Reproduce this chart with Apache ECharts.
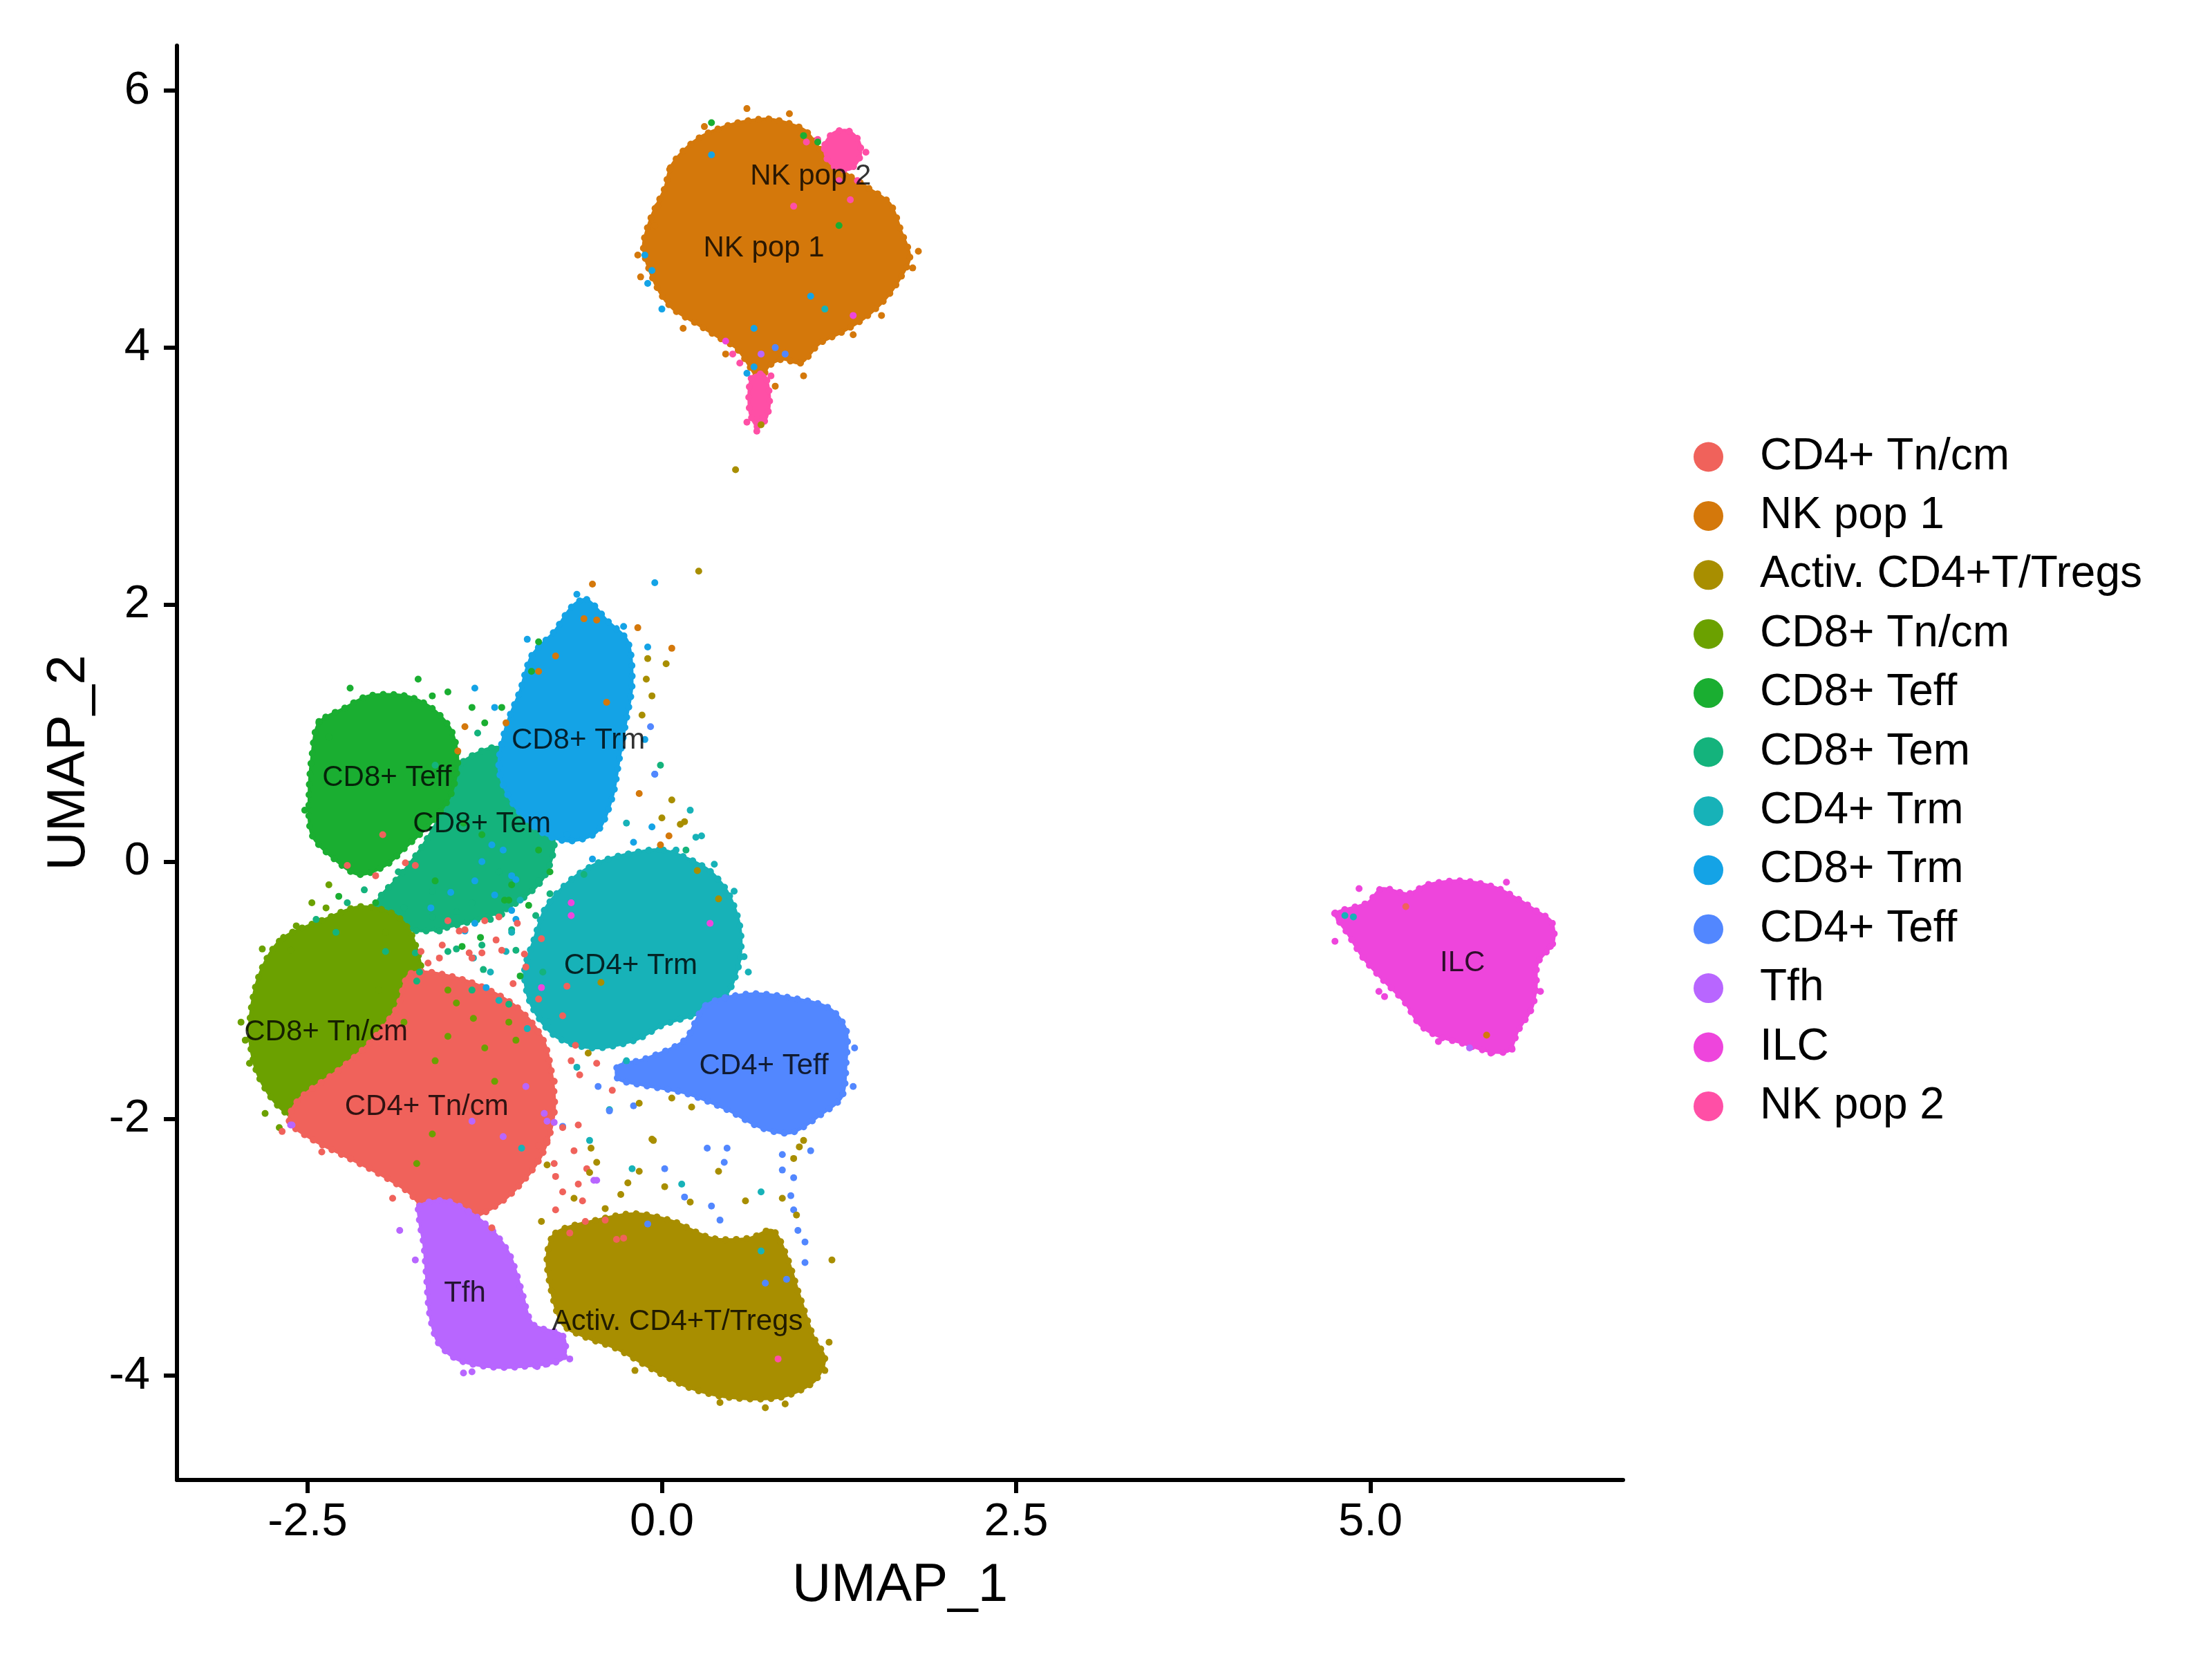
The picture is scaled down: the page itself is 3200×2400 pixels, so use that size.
<!DOCTYPE html>
<html>
<head>
<meta charset="utf-8">
<script src="https://cdn.jsdelivr.net/npm/echarts@6/dist/echarts.min.js"></script>
<style>
html, body { margin: 0; padding: 0; background: #fff; }
#umap { width: 3200px; height: 2400px; }
</style>
</head>
<body>
<div id="umap"></div>
<script>
// cluster names, legend order
var clusters = ['CD4+ Tn/cm', 'NK pop 1', 'Activ. CD4+T/Tregs', 'CD8+ Tn/cm', 'CD8+ Teff', 'CD8+ Tem',
	'CD4+ Trm', 'CD8+ Trm', 'CD4+ Teff', 'Tfh', 'ILC', 'NK pop 2'];
var clusterColors = ['#F0625B', '#D4780B', '#A88E00', '#6BA100', '#1AAE31', '#14B37C',
	'#17B2B8', '#14A3E6', '#5287FF', '#B866FF', '#EE45DC', '#FF4FA6'];

var xTicks = [-2.5, 0, 2.5, 5];
var yTicks = [-4, -2, 0, 2, 4, 6];

// dense cell areas of each cluster (UMAP_1, UMAP_2)
var hullCD4Tncm = [[[-1.77, -0.87], [-1.40, -0.92], [-1.05, -1.11], [-0.85, -1.36], [-0.78, -1.63], [-0.76, -1.96], [-0.85, -2.29],
	[-1.05, -2.57], [-1.25, -2.73], [-1.45, -2.80], [-1.65, -2.73], [-1.79, -2.57], [-2.01, -2.42], [-2.24, -2.29],
	[-2.47, -2.16], [-2.63, -2.02], [-2.56, -1.85], [-2.29, -1.63], [-2.07, -1.42], [-1.87, -1.14]]];
var hullNK1 = [[[0.06, 5.40], [0.15, 5.53], [0.29, 5.65], [0.50, 5.74], [0.72, 5.78], [0.85, 5.76], [1.01, 5.69], [1.12, 5.54],
	[1.27, 5.38], [1.46, 5.24], [1.61, 5.12], [1.69, 4.90], [1.75, 4.70], [1.67, 4.52], [1.57, 4.37], [1.43, 4.23],
	[1.27, 4.12], [1.11, 4.03], [0.98, 3.88], [0.85, 3.91], [0.75, 3.85], [0.69, 3.72], [0.65, 3.80], [0.53, 3.99],
	[0.40, 4.08], [0.24, 4.19], [0.08, 4.30], [-0.02, 4.44], [-0.11, 4.67], [-0.13, 4.81], [-0.07, 5.03], [0.02, 5.24]]];
var hullActiv = [[[-0.75, -2.89], [-0.46, -2.79], [-0.19, -2.74], [0.08, -2.80], [0.35, -2.93], [0.62, -2.93], [0.78, -2.87],
	[0.88, -3.07], [0.96, -3.34], [1.07, -3.70], [1.15, -3.87], [1.07, -4.05], [0.83, -4.17], [0.48, -4.17], [0.21, -4.10],
	[-0.05, -3.96], [-0.32, -3.79], [-0.54, -3.70], [-0.70, -3.60], [-0.78, -3.34], [-0.81, -3.07]]];
var hullCD8Tncm = [[[-2.67, -0.59], [-2.38, -0.45], [-2.13, -0.35], [-1.89, -0.41], [-1.77, -0.56], [-1.69, -0.87], [-1.65, -1.31],
	[-1.79, -1.74], [-2.14, -1.96], [-2.49, -2.05], [-2.70, -1.91], [-2.85, -1.66], [-2.91, -1.36], [-2.88, -1.03], [-2.80, -0.78]]];
var hullCD8Teff = [[[-2.42, 1.08], [-2.47, 0.82], [-2.49, 0.52], [-2.47, 0.21], [-2.30, 0.01], [-2.14, -0.10], [-1.95, -0.03],
	[-1.81, 0.11], [-1.63, 0.30], [-1.49, 0.52], [-1.44, 0.79], [-1.49, 1.03], [-1.63, 1.20], [-1.81, 1.29], [-2.07, 1.29], [-2.23, 1.20]]];
var hullCD8Tem = [[[-1.40, 0.78], [-1.15, 0.89], [-0.95, 0.72], [-0.81, 0.39], [-0.76, 0.12], [-0.85, -0.15], [-1.10, -0.37],
	[-1.40, -0.48], [-1.69, -0.54], [-1.94, -0.48], [-2.01, -0.32], [-1.84, -0.10], [-1.69, 0.12], [-1.55, 0.39], [-1.48, 0.61]]];
var hullCD4Trm = [[[0.01, 0.09], [0.31, -0.05], [0.46, -0.23], [0.55, -0.50], [0.55, -0.77], [0.46, -1.03], [0.31, -1.16],
	[0.01, -1.27], [-0.19, -1.39], [-0.49, -1.45], [-0.75, -1.36], [-0.92, -1.12], [-0.97, -0.86], [-0.90, -0.60],
	[-0.82, -0.36], [-0.64, -0.14], [-0.43, 0.00], [-0.19, 0.07]]];
var hullCD8Trm = [[[-0.53, 2.04], [-0.39, 1.88], [-0.24, 1.71], [-0.21, 1.38], [-0.25, 1.11], [-0.30, 0.80], [-0.35, 0.50],
	[-0.46, 0.23], [-0.66, 0.16], [-0.85, 0.23], [-1.05, 0.45], [-1.15, 0.72], [-1.10, 1.05], [-1.00, 1.33], [-0.92, 1.60],
	[-0.76, 1.79], [-0.63, 1.99]]];
var hullCD4Teff = [[[0.31, -1.12], [0.61, -1.03], [0.91, -1.06], [1.18, -1.14], [1.30, -1.31], [1.30, -1.57], [1.27, -1.83],
	[1.12, -1.97], [0.91, -2.11], [0.70, -2.07], [0.46, -1.93], [0.16, -1.80], [-0.13, -1.74], [-0.31, -1.69],
	[-0.31, -1.59], [-0.13, -1.54], [0.16, -1.39]]];
var hullTfh = [[[-1.71, -2.68], [-1.53, -2.64], [-1.34, -2.74], [-1.18, -2.89], [-1.07, -3.07], [-0.99, -3.34], [-0.91, -3.60],
	[-0.70, -3.69], [-0.70, -3.87], [-0.99, -3.93], [-1.23, -3.93], [-1.45, -3.87], [-1.58, -3.74], [-1.64, -3.51],
	[-1.66, -3.25], [-1.68, -2.98], [-1.71, -2.80]]];
var hullILC = [[[4.75, -0.40], [4.98, -0.32], [5.08, -0.21], [5.27, -0.25], [5.40, -0.18], [5.64, -0.15], [5.88, -0.20],
	[6.04, -0.29], [6.18, -0.39], [6.28, -0.47], [6.29, -0.63], [6.18, -0.79], [6.17, -0.98], [6.14, -1.14], [6.04, -1.32],
	[5.98, -1.47], [5.85, -1.48], [5.64, -1.41], [5.48, -1.36], [5.35, -1.27], [5.24, -1.09], [5.08, -0.91], [4.95, -0.75],
	[4.84, -0.56], [4.77, -0.45]]];
var hullNK2 = [[[1.15, 5.58], [1.21, 5.67], [1.31, 5.69], [1.39, 5.61], [1.40, 5.49], [1.33, 5.39], [1.23, 5.40], [1.16, 5.48]],
	[[0.63, 3.76], [0.72, 3.79], [0.76, 3.62], [0.74, 3.46], [0.68, 3.38], [0.62, 3.50]]];

// scattered single cells outside the dense areas
var strayCD4Tncm = [[-2.02, -0.11], [-1.97, 0.21], [-1.81, -0.01], [-1.39, -0.53], [-1.25, -0.46], [-1.13, -0.69], [-1.34, -0.75],
	[-2.22, -0.03], [-1.74, -0.03], [-1.51, -0.46], [-1.27, -0.71], [-1.57, -0.75], [-0.97, -0.72], [-1.15, -0.43],
	[-0.67, -0.97], [-0.61, -1.43], [-0.58, -1.66], [-0.64, -1.55], [-0.81, -2.17], [-0.75, -2.45], [-0.70, -2.57],
	[-0.75, -2.71], [-0.56, -2.64], [-0.40, -2.79], [-0.32, -2.94], [-0.65, -2.89], [-0.54, -2.80], [-0.27, -2.93],
	[5.25, -0.35], [-2.68, -2.10], [-2.40, -2.26], [-1.90, -2.62], [-1.20, -2.85], [-0.70, -1.20], [-0.85, -0.60],
	[-1.43, -0.54], [-1.17, -0.61], [-1.36, -0.71], [-1.65, -0.79], [-1.02, -0.48], [-0.96, -0.82], [-0.87, -1.07],
	[-0.76, -1.71], [-0.70, -2.07], [-0.76, -2.35], [-0.87, -2.21], [-0.59, -2.05], [-0.53, -2.39], [-0.59, -2.51],
	[-0.46, -1.57], [-0.35, -1.78], [-1.55, -0.65], [-1.70, -0.70], [-1.05, -0.95], [-0.62, -2.25]];
var strayNK1 = [[-0.49, 2.16], [-0.55, 1.89], [-0.46, 1.88], [-0.17, 1.82], [0.07, 1.66], [-0.75, 1.60], [-0.87, 1.48],
	[-0.39, 1.24], [-0.16, 0.53], [0.05, 0.20], [-0.01, 0.13], [-1.39, 1.05], [-1.44, 0.86], [-1.10, 1.08], [0.60, 5.86],
	[0.90, 5.82], [1.77, 4.62], [1.81, 4.75], [-0.15, 4.55], [-0.17, 4.72], [1.55, 4.25], [1.00, 3.78], [-0.05, 4.95],
	[0.30, 5.72], [0.15, 4.15], [1.35, 4.10], [0.45, 3.95], [0.80, 3.70], [-0.03, 5.10], [5.82, -1.35]];
var strayActiv = [[0.26, 2.26], [-0.10, 1.58], [0.03, 1.54], [-0.11, 1.42], [-0.07, 1.29], [-0.14, 1.14], [0.07, 0.48],
	[0.13, 0.29], [0.00, 0.34], [0.16, 0.31], [0.25, -0.07], [0.40, -0.29], [-0.43, -0.94], [-0.52, -1.49], [-0.16, -1.88],
	[0.07, -1.84], [-0.07, -2.16], [0.21, -1.91], [-0.06, -2.17], [-0.50, -2.23], [-0.46, -2.34], [-0.81, -2.36],
	[-0.51, -2.42], [-0.16, -2.41], [-0.24, -2.50], [0.02, -2.53], [0.40, -2.41], [0.59, -2.64], [-0.29, -2.59],
	[0.93, -2.31], [0.97, -2.22], [1.00, -2.17], [0.41, -4.21], [0.73, -4.25], [0.87, -4.22], [-0.19, -3.96], [1.15, -3.96],
	[1.18, -3.74], [0.52, 3.05], [0.70, 3.40], [1.20, -3.10], [0.95, -2.75], [-0.40, -2.70], [-0.62, -2.62], [-0.85, -2.80],
	[0.20, -2.65], [0.85, -2.62]];
var strayCD8Tncm = [[-2.82, -0.68], [-2.58, -0.50], [-2.94, -1.39], [-2.91, -1.57], [-2.97, -1.25], [-2.47, -0.32], [-2.35, -0.18],
	[-2.62, -0.69], [-2.37, -0.36], [-1.51, -1.00], [-1.33, -1.22], [-1.18, -1.71], [-1.03, -1.39], [-2.80, -1.96], [-2.70, -2.07],
	[-1.95, -0.55], [-1.60, -1.55], [-2.00, -1.00], [-1.82, -1.25], [-1.51, -1.36], [-1.08, -1.25], [-1.73, -2.35], [-1.62, -2.12],
	[-1.45, -1.10], [-1.25, -1.45]];
var strayCD8Teff = [[-1.72, 1.42], [-1.62, 1.29], [-1.51, 1.32], [-1.34, 1.20], [-1.13, 1.20], [-1.25, 1.08], [-2.42, 1.09],
	[-2.35, 0.97], [-1.11, -0.30], [-1.06, -0.18], [-0.79, -0.08], [-0.87, 0.09], [-1.27, 0.21], [-1.60, -0.15], [-2.02, -0.32],
	[-2.28, -0.27], [-0.94, -0.34], [-0.92, 1.48], [-0.87, 1.71], [0.35, 5.75], [1.00, 5.65], [1.10, 5.60], [1.25, 4.95],
	[-2.52, 0.40], [-2.20, 1.35], [-1.40, 0.30], [-1.08, -0.30], [-1.28, -0.59], [-1.41, -0.66], [-1.00, -0.89]];
var strayCD8Tem = [[-2.10, -0.22], [-1.86, -0.08], [-1.62, -0.23], [-1.45, -0.39], [-1.57, -0.54], [-1.45, -0.68], [-1.27, -0.65],
	[-1.21, -0.45], [-1.74, -0.71], [-2.22, -0.32], [-2.44, -0.45], [-1.71, -0.86], [-1.03, -0.69], [-0.84, -0.86],
	[-1.15, -0.08], [-0.87, -0.15], [-0.79, -0.25], [-0.89, -0.42], [-0.55, -0.10], [-1.34, -0.32], [-1.06, -0.53],
	[-0.01, 0.75], [0.17, 0.09], [-1.30, 1.00], [-1.60, 0.75], [-1.82, -0.36], [-1.62, -0.43], [-1.51, -0.70], [-1.26, -0.84],
	[-1.13, -0.41], [-1.34, -1.00], [-1.08, -1.11], [-1.73, -0.93], [-2.30, -0.55], [-1.95, -0.70]];
var strayCD4Trm = [[0.24, 0.19], [0.10, 0.09], [0.28, 0.20], [0.37, -0.02], [0.51, -0.23], [0.58, -0.74], [0.61, -0.86],
	[-1.06, -0.55], [-1.33, -0.75], [-1.21, -0.86], [-1.15, -1.08], [-0.80, -1.25], [-0.51, -2.17], [-0.21, -2.39],
	[0.14, -2.51], [0.70, -2.57], [0.70, -3.03], [-0.37, -1.93], [-0.99, -2.23], [4.82, -0.42], [4.88, -0.43], [1.15, 4.30],
	[0.20, 0.40], [-0.25, 0.30], [-1.00, -0.30], [-1.10, -0.70], [-0.95, -1.30], [-0.60, -1.60], [-0.25, -1.55]];
var strayCD8Trm = [[-0.05, 2.17], [-0.60, 2.08], [-0.27, 1.83], [-0.95, 1.73], [-1.32, 1.35], [-0.10, 1.67], [-0.12, 0.95],
	[-0.05, 0.68], [-0.07, 0.27], [-0.20, 0.15], [-1.18, 1.20], [-1.20, 0.13], [-1.06, -0.11], [-1.32, -0.15], [-1.49, -0.24],
	[-1.06, -0.38], [-1.63, -0.36], [-0.85, 0.34], [-0.67, 0.21], [-1.12, 0.09], [-1.27, 0.00], [-1.03, -0.14], [-1.18, -0.26],
	[-1.39, -0.54], [-1.03, -0.45], [-0.49, 0.02], [-0.12, 4.72], [-0.07, 4.60], [-0.10, 4.50], [0.00, 4.30], [0.65, 3.85],
	[0.60, 3.80], [0.65, 4.15], [0.35, 5.50], [1.05, 4.40], [-1.32, -0.48], [-1.51, -0.46], [-1.24, -0.98]];
var strayCD4Teff = [[0.32, -2.23], [0.46, -2.23], [0.44, -2.34], [0.02, -2.39], [0.85, -2.28], [0.85, -2.40], [0.93, -2.46],
	[0.91, -2.60], [0.93, -2.71], [0.41, -2.79], [0.16, -2.61], [0.35, -2.68], [0.96, -2.87], [1.01, -2.96], [1.01, -3.12],
	[0.88, -3.25], [0.73, -3.28], [-0.10, -2.82], [-0.37, -1.94], [-0.70, -2.06], [-0.08, 1.05], [-0.05, 0.68],
	[0.80, 4.00], [0.87, 3.95], [1.36, -1.45], [1.35, -1.75], [-0.45, -1.75], [-0.20, -1.90], [1.05, -2.25]];
var strayTfh = [[-2.62, -2.05], [-1.85, -2.87], [-1.74, -3.10], [-1.40, -3.98], [-1.34, -3.97], [-0.88, -3.93], [-0.81, -3.91],
	[-0.65, -3.87], [-0.46, -2.48], [-0.81, -2.02], [-1.12, -2.14], [0.70, 3.95], [5.70, -1.45], [-2.61, -2.05], [-1.34, -2.02],
	[-0.96, -1.75], [-0.83, -1.96], [-0.76, -2.03], [-0.48, -2.48]];
var strayILC = [[4.92, -0.21], [4.75, -0.62], [5.06, -1.01], [5.10, -1.05], [5.96, -0.16], [6.27, -0.66], [6.00, -1.46],
	[5.85, -1.49], [5.48, -1.40], [6.20, -1.01], [4.78, -0.45], [-0.64, -0.32], [-0.64, -0.42], [0.34, -0.48], [-0.85, -0.98],
	[0.45, 4.05], [1.35, 4.25]];
var strayNK2 = [[1.10, 5.62], [1.44, 5.52], [1.38, 5.30], [1.33, 5.15], [1.02, 5.60], [0.50, 3.95], [0.55, 3.88], [0.77, 3.78],
	[0.71, 3.45], [0.67, 3.35], [0.60, 3.42], [0.93, 5.10], [0.82, -3.87], [1.25, 5.30]];

// text labels placed on the clusters
var clusterLabels = [[-1.66, -1.91, 'CD4+ Tn/cm'], [0.72, 4.77, 'NK pop 1'], [0.11, -3.58, 'Activ. CD4+T/Tregs'],
	[-2.37, -1.33, 'CD8+ Tn/cm'], [-1.94, 0.65, 'CD8+ Teff'], [-1.27, 0.29, 'CD8+ Tem'], [-0.22, -0.81, 'CD4+ Trm'],
	[-0.59, 0.94, 'CD8+ Trm'], [0.72, -1.59, 'CD4+ Teff'], [-1.39, -3.36, 'Tfh'], [5.65, -0.79, 'ILC'], [1.05, 5.33, 'NK pop 2']];

var hulls = [hullCD4Tncm, hullNK1, hullActiv, hullCD8Tncm, hullCD8Teff, hullCD8Tem, hullCD4Trm, hullCD8Trm,
	hullCD4Teff, hullTfh, hullILC, hullNK2];
var strays = [strayCD4Tncm, strayNK1, strayActiv, strayCD8Tncm, strayCD8Teff, strayCD8Tem, strayCD4Trm, strayCD8Trm,
	strayCD4Teff, strayTfh, strayILC, strayNK2];
// which cluster goes on top of which
var drawOrder = [1, 11, 10, 5, 4, 7, 6, 8, 3, 0, 9, 2];

var font = "'Liberation Sans', Arial, Helvetica, sans-serif";

function hullSeries(i, z) {
	var polys = hulls[i];
	var color = clusterColors[i];
	return {
		type: 'custom',
		name: clusters[i],
		coordinateSystem: 'cartesian2d',
		silent: true,
		z: z,
		itemStyle: { color: color },
		data: polys.map(function (p) { return p[0]; }),
		renderItem: function (params, api) {
			var pts = polys[params.dataIndex].map(function (p) { return api.coord(p); });
			return {
				type: 'group',
				children: [{
					type: 'polygon',
					shape: { points: pts, smooth: 0.3 },
					style: { fill: color, stroke: color, lineWidth: 4, lineJoin: 'round' }
				}, {
					// dotted rim, so the edge looks like single cells
					type: 'polygon',
					shape: { points: pts, smooth: 0.3 },
					style: { fill: null, stroke: color, lineWidth: 10, lineCap: 'round', lineDash: [0.1, 15] }
				}]
			};
		}
	};
}

var series = [];
drawOrder.forEach(function (i, k) {
	series.push(hullSeries(i, 2 + k * 0.01));
});
drawOrder.forEach(function (i) {
	series.push({
		type: 'scatter',
		name: clusters[i],
		symbol: 'circle',
		symbolSize: 10,
		silent: true,
		z: 3,
		itemStyle: { color: clusterColors[i], opacity: 1 },
		data: strays[i]
	});
});
series.push({
	type: 'scatter',
	name: 'labels',
	symbolSize: 0,
	silent: true,
	z: 5,
	data: clusterLabels,
	label: {
		show: true,
		position: 'inside',
		formatter: function (p) { return p.value[2]; },
		color: '#000',
		fontSize: 42,
		fontFamily: font
	}
});

var chart = echarts.init(document.getElementById('umap'));
chart.setOption({
	animation: false,
	backgroundColor: '#fff',
	grid: { left: 256, right: 852, top: 66, bottom: 259, outerBoundsMode: 'none' },
	legend: {
		orient: 'vertical',
		left: 2445,
		top: 624,
		icon: 'circle',
		itemWidth: 43,
		itemHeight: 43,
		itemGap: 21.4,
		selectedMode: false,
		data: clusters,
		textStyle: { fontSize: 64, color: '#000', fontFamily: font, padding: [0, 0, 0, 48] }
	},
	xAxis: {
		type: 'value',
		min: -3.422,
		max: 6.783,
		name: 'UMAP_1',
		nameLocation: 'middle',
		nameGap: 114,
		nameTextStyle: { fontSize: 78, color: '#000', fontFamily: font },
		axisLine: { onZero: false, lineStyle: { color: '#000', width: 6 } },
		axisTick: { length: 19, lineStyle: { color: '#000', width: 6 }, customValues: xTicks },
		axisLabel: {
			fontSize: 67, color: '#000', fontFamily: font, margin: 28,
			customValues: xTicks,
			formatter: function (v) { return v.toFixed(1); }
		},
		splitLine: { show: false }
	},
	yAxis: {
		type: 'value',
		min: -4.812,
		max: 6.35,
		name: 'UMAP_2',
		nameLocation: 'middle',
		nameGap: 117,
		nameTextStyle: { fontSize: 78, color: '#000', fontFamily: font },
		axisLine: { onZero: false, lineStyle: { color: '#000', width: 6 } },
		axisTick: { length: 19, lineStyle: { color: '#000', width: 6 }, customValues: yTicks },
		axisLabel: {
			fontSize: 67, color: '#000', fontFamily: font, margin: 39,
			customValues: yTicks,
			formatter: function (v) { return String(v); }
		},
		splitLine: { show: false }
	},
	series: series
});
</script>
</body>
</html>
